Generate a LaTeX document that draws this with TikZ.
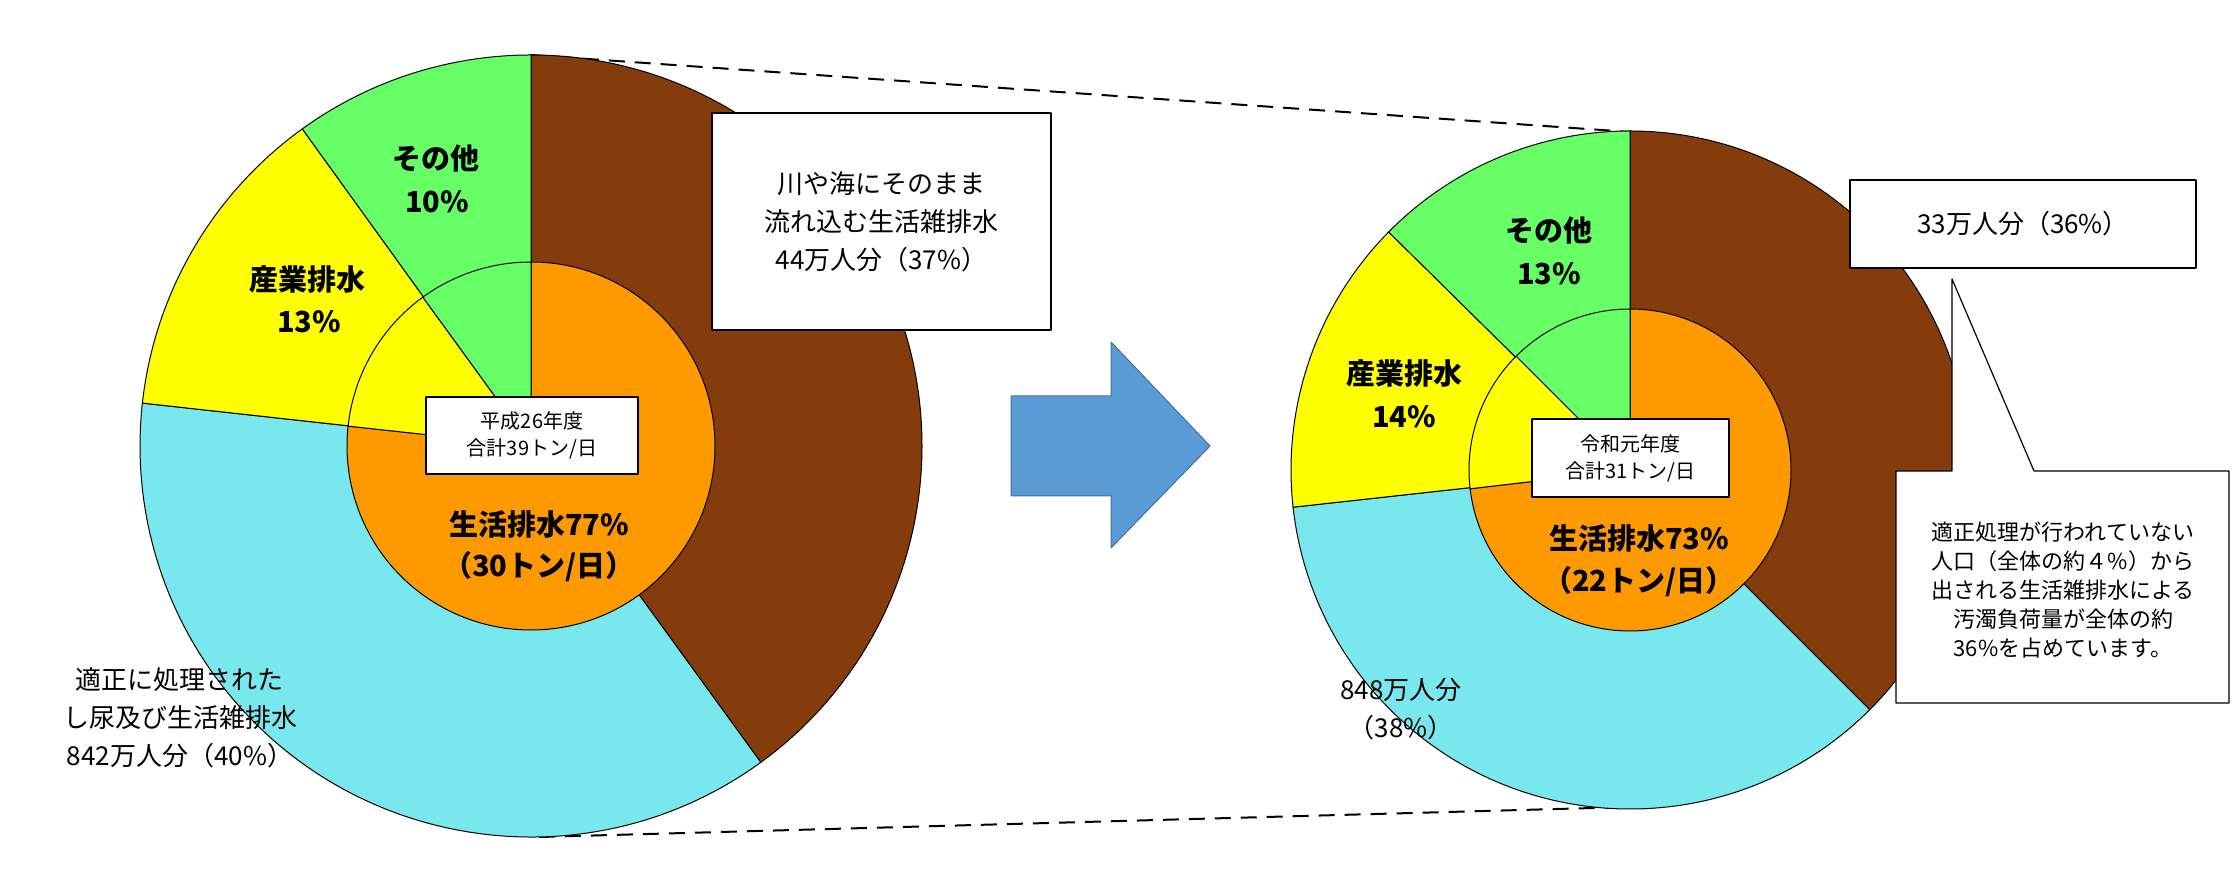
\documentclass[tikz,border=0pt]{standalone}
\usepackage{fontspec}
\setmainfont{Noto Sans CJK JP}
\definecolor{cbrown}{HTML}{843C0C}
\definecolor{ccyan}{HTML}{78E8EE}
\definecolor{cyel}{HTML}{FFFF00}
\definecolor{cgreen}{HTML}{66FF66}
\definecolor{corange}{HTML}{FF9900}
\definecolor{carrow}{HTML}{5B9BD5}
\definecolor{carrowd}{HTML}{41719C}
\newcommand\pwedge[5]{\filldraw[fill=#5,line width=1pt] (#1) -- ++(#2:#4pt) arc[start angle=#2,end angle=#3,radius=#4pt] -- cycle;}
\tikzset{
  lbl/.style={font=\fontsize{29}{34}\selectfont\bfseries, inner sep=0pt},
  txt/.style={font=\fontsize{26}{38}\selectfont, align=center, inner sep=0pt},
  ctr/.style={draw, fill=white, line width=1.2pt, font=\fontsize{20}{27}\selectfont, align=center, inner sep=0pt},
  tbox/.style={draw, fill=white, line width=1.2pt, inner sep=0pt},
}
\begin{document}
\begin{tikzpicture}[x=1pt,y=1pt,line join=round]
\useasboundingbox (0,0) rectangle (2233,893);
\coordinate (L) at (531,447);
\coordinate (R) at (1630,423);
\coordinate (Lt) at (531,838);
\coordinate (Lb) at (539,56);
\coordinate (Rt) at (1630,761);
\coordinate (Rb) at (1630,86);
\draw[line width=2pt, dash pattern=on 16pt off 10pt] (Lt) -- (Rt);
\draw[line width=2pt, dash pattern=on 16pt off 10pt] (Lb) -- (Rb);
% arrow
\filldraw[fill=carrow, draw=carrowd, line width=1pt] (1011,497) -- (1111,497) -- (1111,551) -- (1210,447) -- (1111,345) -- (1111,397) -- (1011,397) -- cycle;
% left pie
\pwedge{L}{90}{-54}{391}{cbrown}
\pwedge{L}{-54}{-186.3}{391}{ccyan}
\pwedge{L}{173.7}{125.8}{391}{cyel}
\pwedge{L}{125.8}{90}{391}{cgreen}
\pwedge{L}{90}{-186.2}{184}{corange}
\pwedge{L}{173.8}{126}{184}{cyel}
\pwedge{L}{126}{90}{184}{cgreen}
% right pie
\pwedge{R}{90}{-45}{339}{cbrown}
\pwedge{R}{-45}{-173.7}{339}{ccyan}
\pwedge{R}{186.3}{135.4}{339}{cyel}
\pwedge{R}{135.4}{90}{339}{cgreen}
\pwedge{R}{90}{-173.3}{161}{corange}
\pwedge{R}{186.7}{135}{161}{cyel}
\pwedge{R}{135}{90}{161}{cgreen}
% left labels
\node[lbl] (l1) at (436,734) {その他};
\node[lbl] (l2) at (437,691) {10\%};
\node[lbl] (l3) at (307,614) {産業排水};
\node[lbl] (l4) at (309,571) {13\%};
\node[ctr, minimum width=212pt, minimum height=77pt] (l5) at (532,457.5) {平成26年度\\合計39トン/日};
\node[lbl] (l6) at (539,369) {生活排水77\%};
\node[lbl] (l7) at (539,326) {（30トン/日）};
\node[txt] (l8) at (180,175) {適正に処理された\\し尿及び生活雑排水\\842万人分（40\%）};
\node[tbox, txt, minimum width=339pt, minimum height=217pt] (l9) at (881.5,671.5) {川や海にそのまま\\流れ込む生活雑排水\\44万人分（37\%）};
% right labels
\node[lbl] (r1) at (1549,662) {その他};
\node[lbl] (r2) at (1549,619) {13\%};
\node[lbl] (r3) at (1404,520) {産業排水};
\node[lbl] (r4) at (1404,476) {14\%};
\node[ctr, minimum width=197pt, minimum height=78pt] (r5) at (1630.5,435) {令和元年度\\合計31トン/日};
\node[lbl] (r6) at (1639,355) {生活排水73\%};
\node[lbl] (r7) at (1639,311) {（22トン/日）};
\node[txt] (r8) at (1401,184) {848万人分\\（38\%）};
\node[tbox, txt, minimum width=346pt, minimum height=88pt] (r9) at (2023,669) {33万人分（36\%）};
\filldraw[fill=white, line width=1.2pt] (1896,422) -- (1952,422) -- (1952,614) -- (2034,422) -- (2229,422) -- (2229,190) -- (1896,190) -- cycle;
\node[font=\fontsize{22}{29}\selectfont, align=center, inner sep=0pt] (r10) at (2063,303) {適正処理が行われていない\\人口（全体の約４\%）から\\出される生活雑排水による\\汚濁負荷量が全体の約\\36\%を占めています。};
\end{tikzpicture}
\end{document}
